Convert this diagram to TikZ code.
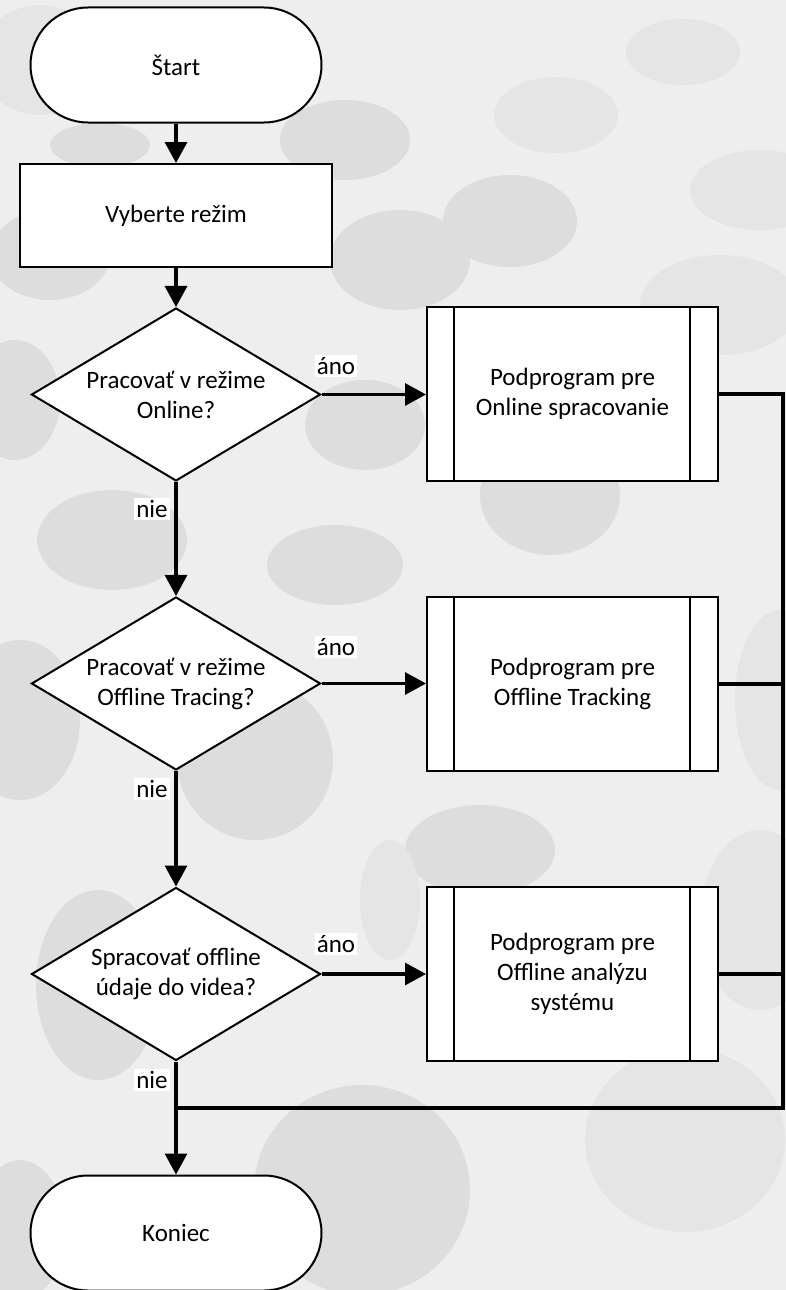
\documentclass[tikz,border=0pt]{standalone}
\usepackage{fontspec}
\setmainfont{Carlito}
\usetikzlibrary{shapes.geometric,shapes.misc,arrows.meta}
\definecolor{bgc}{HTML}{EEEEEE}
\definecolor{blobc}{HTML}{DDDDDD}
\definecolor{blobl}{HTML}{E5E5E5}
\begin{document}
\begin{tikzpicture}[x=1pt,y=-1pt,
  every node/.style={font=\fontsize{25}{30}\selectfont},
  term/.style={rounded rectangle, draw, fill=white, line width=2pt, minimum width=291pt, minimum height=115pt, inner sep=0pt},
  proc/.style={rectangle, draw, fill=white, line width=2pt, minimum width=312pt, minimum height=103pt, inner sep=0pt},
  dec/.style={diamond, draw, fill=white, line width=2pt, aspect=1.665, minimum width=289pt, minimum height=173pt, inner sep=0pt, align=center},
  sub/.style={rectangle, draw, fill=white, line width=2pt, minimum width=291pt, minimum height=174pt, inner sep=0pt, align=center,
    path picture={\draw[line width=2pt]
      ([xshift=27pt]path picture bounding box.north west) -- ([xshift=27pt]path picture bounding box.south west)
      ([xshift=-28pt]path picture bounding box.north east) -- ([xshift=-28pt]path picture bounding box.south east);}},
  conn/.style={line width=3.2pt},
  arr/.style={conn, -{Triangle[length=21pt, width=22pt]}},
  lbl/.style={fill=white, inner sep=2pt}
]
\useasboundingbox (0,0) rectangle (786,1290);
\fill[bgc] (0,0) rectangle (786,1290);
\begin{scope}
\clip (0,0) rectangle (786,1290);
\fill[blobl] (40,60) ellipse [x radius=60pt, y radius=55pt];
\fill[blobc] (100,145) ellipse [x radius=50pt, y radius=22pt];
\fill[blobc] (345,140) ellipse [x radius=65pt, y radius=40pt];
\fill[blobl] (556,115) ellipse [x radius=62pt, y radius=38pt];
\fill[blobl] (683,52) ellipse [x radius=57pt, y radius=33pt];
\fill[blobc] (510,221) ellipse [x radius=67pt, y radius=46pt];
\fill[blobl] (760,190) ellipse [x radius=70pt, y radius=40pt];
\fill[blobl] (720,305) ellipse [x radius=80pt, y radius=50pt];
\fill[blobc] (50,255) ellipse [x radius=60pt, y radius=45pt];
\fill[blobc] (400,260) ellipse [x radius=70pt, y radius=50pt];
\fill[blobc] (15,400) ellipse [x radius=45pt, y radius=60pt];
\fill[blobc] (365,425) ellipse [x radius=60pt, y radius=45pt];
\fill[blobc] (112,540) ellipse [x radius=75pt, y radius=50pt];
\fill[blobc] (335,565) ellipse [x radius=68pt, y radius=40pt];
\fill[blobc] (550,495) ellipse [x radius=70pt, y radius=60pt];
\fill[blobc] (20,720) ellipse [x radius=60pt, y radius=80pt];
\fill[blobc] (255,760) ellipse [x radius=78pt, y radius=80pt];
\fill[blobl] (780,700) ellipse [x radius=45pt, y radius=90pt];
\fill[blobc] (480,850) ellipse [x radius=75pt, y radius=45pt];
\fill[blobl] (390,900) ellipse [x radius=30pt, y radius=60pt];
\fill[blobc] (98,985) ellipse [x radius=62pt, y radius=95pt];
\fill[blobl] (760,920) ellipse [x radius=60pt, y radius=90pt];
\fill[blobc] (362,1190) ellipse [x radius=108pt, y radius=105pt];
\fill[blobl] (685,1140) ellipse [x radius=100pt, y radius=92pt];
\fill[blobc] (20,1230) ellipse [x radius=45pt, y radius=70pt];
\end{scope}

\node[term] (start) at (176,65) {Štart};
\node[proc] (sel) at (176,215.5) {Vyberte režim};
\node[dec] (d1) at (176,394.5) {Pracovať v režime\\Online?};
\node[dec] (d2) at (176,683.5) {Pracovať v režime\\Offline Tracing?};
\node[dec] (d3) at (176,974) {Spracovať offline\\údaje do videa?};
\node[sub] (s1) at (572.5,394) {Podprogram pre\\Online spracovanie};
\node[sub] (s2) at (572.5,684) {Podprogram pre\\Offline Tracking};
\node[sub] (s3) at (572.5,974) {Podprogram pre\\Offline analýzu\\systému};
\node[term] (end) at (176,1233) {Koniec};

\coordinate (rb) at (783,1108);
\coordinate (mg) at (176,1108);

\draw[arr] (start) -- (sel);
\draw[arr] (sel) -- (d1);
\draw[arr] (d1.east) -- (d1.east -| s1.west);
\draw[arr] (d1) -- (d2);
\draw[arr] (d2.east) -- (d2.east -| s2.west);
\draw[arr] (d2) -- (d3);
\draw[arr] (d3.east) -- (d3.east -| s3.west);
\draw[arr] (d3) -- (end);
\draw[conn] (s1.east) -- (s1.east -| rb) -- (rb) -- (mg);
\draw[conn] (s2.east) -- (s2.east -| rb);
\draw[conn] (s3.east) -- (s3.east -| rb);

\node[lbl] (y1) at (336,366) {áno};
\node[lbl] (y2) at (336,647) {áno};
\node[lbl] (y3) at (336,944) {áno};
\node[lbl] (n1) at (152,509) {nie};
\node[lbl] (n2) at (152,789) {nie};
\node[lbl] (n3) at (152,1080) {nie};
\end{tikzpicture}
\end{document}
